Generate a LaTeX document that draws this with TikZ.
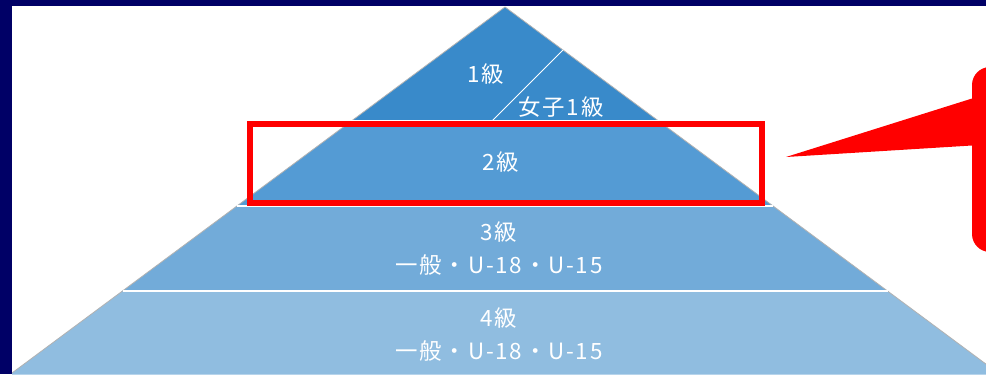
\documentclass[tikz,border=0pt]{standalone}
\usepackage{fontspec}
\newfontfamily\cjk[LetterSpace=8]{Noto Sans CJK JP}
\definecolor{navy}{RGB}{0,0,102}
\definecolor{lvA}{RGB}{57,138,202}
\definecolor{lvB}{RGB}{84,155,212}
\definecolor{lvC}{RGB}{114,171,217}
\definecolor{lvD}{RGB}{144,189,224}
\definecolor{hred}{RGB}{255,0,0}
\tikzset{
  lbl/.style={text=white, font=\cjk\fontsize{22.5}{26}\selectfont, inner sep=0pt, align=center},
  sep/.style={draw=white, line width=1.6bp},
  edge/.style={draw=black!30, line width=0.8bp},
}
\begin{document}
\begin{tikzpicture}[x=1bp,y=-1bp]
\useasboundingbox (0,0) rectangle (986,374);
\fill[navy] (0,0) rectangle (986,374);
\fill[white] (12,6) rectangle (986,374);
\begin{scope}
\clip (12,6) rectangle (986,374);
% pyramid levels
\fill[lvA] (505,7) -- (658.6,121) -- (351.4,121) -- cycle;
\fill[lvB] (351.4,121) -- (658.6,121) -- (773.1,206) -- (236.9,206) -- cycle;
\fill[lvC] (236.9,206) -- (773.1,206) -- (887.5,291) -- (122.5,291) -- cycle;
\fill[lvD] (122.5,291) -- (887.5,291) -- (1000,374.5) -- (10,374.5) -- cycle;
% slanted outline
\draw[edge] (10,374.5) -- (505,7) -- (1000,374.5);
% level separators
\coordinate (s1l) at (351.4,121); \coordinate (s1r) at (658.6,121);
\coordinate (s2l) at (236.9,206); \coordinate (s2r) at (773.1,206);
\coordinate (s3l) at (122.5,291); \coordinate (s3r) at (887.5,291);
\draw[sep] (s1l) -- (s1r);
\draw[sep] (s2l) -- (s2r);
\draw[sep] (s3l) -- (s3r);
% divider in top level
\coordinate (d1) at (563,50); \coordinate (d2) at (492,121);
\draw[white, line width=0.8bp] (d1) -- (d2);
% labels
\node[lbl] (l1) at (486,74) {1級};
\node[lbl] (l1w) at (561,107) {女子1級};
\node[lbl] (l2) at (501,162) {2級};
\node[lbl] (l3) at (499,232) {3級};
\node[lbl] (l3b) at (499,265) {一般・U-18・U-15};
\node[lbl] (l4) at (499,318) {4級};
\node[lbl] (l4b) at (499,351) {一般・U-18・U-15};
% highlight box
\node[draw=hred, line width=6bp, minimum width=512bp, minimum height=79bp, inner sep=0pt] (hl) at (506,163.5) {};
% callout
\fill[hred, rounded corners=18bp] (972,67) rectangle (1020,252);
\coordinate (tip) at (786,157);
\fill[hred] (tip) -- (980,96) -- (980,145) -- cycle;
\end{scope}
\end{tikzpicture}
\end{document}
